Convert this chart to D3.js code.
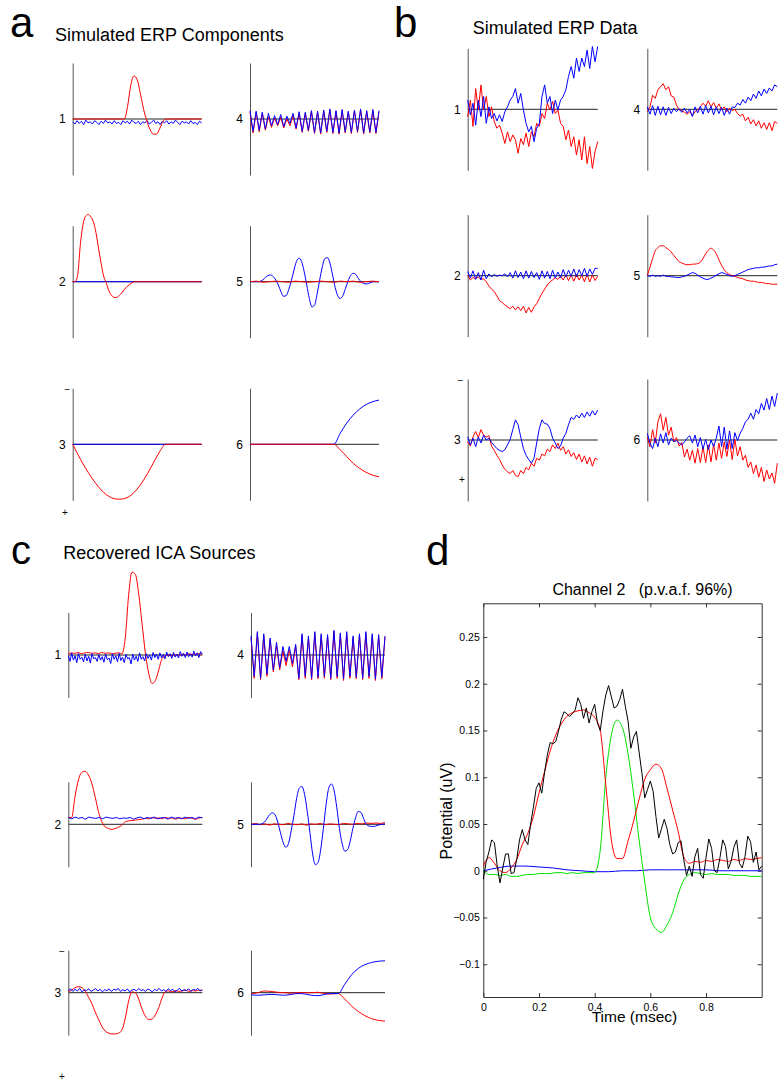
<!DOCTYPE html>
<html>
<head>
<meta charset="utf-8">
<script src="https://cdn.jsdelivr.net/npm/d3@7"></script>
<style>
  body { margin: 0; background: #fff; }
  svg { display: block; font-family: "Liberation Sans", Arial, Helvetica, sans-serif; }
</style>
</head>
<body>
<svg id="fig" width="778" height="1082"></svg>
<script>
// ---------- a: simulated ERP components (units: half the axis height = 1) ----------
const aRed1 = [0,0,0,0,0,0,0,0,0,0,0,0,0,0,0,0,0,0.22,0.6,0.77,0.7,0.45,0.17,-0.04,-0.19,-0.27,-0.27,-0.17,-0.04,0,0,0,0,0,0,0,0,0,0,0,0];
const aBlue1 = [-0.05,-0.09,-0.03,-0.08,-0.04,-0.1,-0.02,-0.07,-0.05,-0.09,-0.03,-0.06,-0.1,-0.04,-0.08,-0.02,-0.07,-0.05,-0.09,-0.03,-0.08,-0.06,-0.1,-0.03,-0.07,-0.04,-0.09,-0.02,-0.06,-0.08,-0.04,-0.1,-0.05,-0.07,-0.03,-0.09,-0.06,-0.02,-0.08,-0.05,-0.1,-0.04,-0.07,-0.03,-0.09,-0.05,-0.08,-0.02,-0.06,-0.1,-0.04,-0.07,-0.05,-0.09,-0.03,-0.08,-0.06,-0.1,-0.04,-0.07];
const aRed2 = [0,0,0.15,0.68,1.02,1.17,1.2,1.16,1.07,0.88,0.6,0.33,0.1,-0.02,-0.16,-0.24,-0.28,-0.28,-0.25,-0.2,-0.14,-0.09,-0.05,-0.02,0,0,0,0,0,0,0,0,0,0,0,0,0,0,0,0,0,0,0,0,0,0,0,0,0,0,0];
const aBlue2 = [0,0];
const aRed3 = [0,-0.18,-0.35,-0.5,-0.64,-0.76,-0.86,-0.93,-0.97,-0.98,-0.97,-0.93,-0.85,-0.74,-0.6,-0.44,-0.27,-0.11,0,0,0,0,0,0,0,0];
const aBlue3 = [0,0];
const aRed4 = [0.12,-0.25,0.12,-0.23,0.1,-0.2,0.04,-0.15,0.02,-0.12,0.03,-0.16,0,-0.12,0.06,-0.18,0.1,-0.24,0.1,-0.22,0.13,-0.26,0.12,-0.27,0.14,-0.24,0.16,-0.26,0.13,-0.27,0.15,-0.25,0.12,-0.26,0.14,-0.24,0.16,-0.27,0.13,-0.25,0.15,-0.26,0.13];
const aBlue4 = [0.15,-0.22,0.14,-0.2,0.12,-0.18,0.1,-0.12,0.06,-0.1,0.08,-0.14,0.05,-0.08,0.1,-0.16,0.13,-0.22,0.12,-0.2,0.15,-0.24,0.14,-0.25,0.16,-0.22,0.18,-0.24,0.15,-0.25,0.17,-0.23,0.14,-0.24,0.16,-0.22,0.18,-0.25,0.15,-0.23,0.17,-0.24,0.15];
const aRed5 = [0,0.01,-0.01,0,0.01,0,-0.01,0.01,0,-0.01,0,0.01,0,-0.01,0.01,0,0.01,-0.01,0,0.01,0];
const aBlue5 = [0,0,0,0,0.01,0.03,0.08,0.11,0.12,0.09,0.03,-0.06,-0.18,-0.26,-0.25,-0.14,0.01,0.2,0.36,0.42,0.36,0.18,-0.06,-0.3,-0.45,-0.42,-0.22,0.03,0.26,0.41,0.43,0.33,0.12,-0.1,-0.25,-0.3,-0.25,-0.12,0.01,0.11,0.15,0.13,0.06,0,-0.03,-0.04,-0.03,-0.01,0,0,0];
const aRed6 = [0,0,0,0,0,0,0,0,0,0,0,0,0,0,-0.1,-0.22,-0.34,-0.43,-0.5,-0.55,-0.58];
const aBlue6 = [0,0,0,0,0,0,0,0,0,0,0,0,0,0,0.2,0.38,0.52,0.63,0.71,0.76,0.79];

// ---------- b: simulated ERP data ----------
const bRed1 = [-0.12,0.15,-0.28,0.34,-0.01,0.4,-0.01,0.21,-0.12,0.04,-0.2,-0.31,-0.26,-0.39,-0.56,-0.37,-0.53,-0.42,-0.5,-0.72,-0.48,-0.58,-0.39,-0.61,-0.37,-0.45,-0.23,-0.28,-0.07,-0.15,0.1,-0.01,0.13,-0.07,-0.01,-0.23,-0.28,-0.5,-0.34,-0.61,-0.45,-0.75,-0.5,-0.83,-0.45,-0.89,-0.61,-0.97,-0.69,-0.53];
const bBlue1 = [0.15,-0.09,0.1,-0.26,0.15,-0.12,0.21,-0.23,0.04,-0.15,-0.07,-0.19,-0.09,-0.2,-0.04,0.04,0.15,0.21,0.34,0.1,0.26,-0.01,-0.23,-0.37,-0.28,-0.53,-0.31,-0.23,0.21,0.4,0.1,0.21,-0.07,0.15,-0.01,0.15,0.21,0.32,0.54,0.7,0.51,0.84,0.62,0.84,0.7,0.97,0.67,1.03,0.78,1.03];
const bRed2 = [0,-0.07,-0.03,-0.05,-0.02,-0.06,-0.05,-0.1,-0.17,-0.22,-0.26,-0.33,-0.41,-0.44,-0.48,-0.51,-0.54,-0.5,-0.56,-0.51,-0.57,-0.5,-0.61,-0.52,-0.6,-0.51,-0.46,-0.37,-0.29,-0.22,-0.15,-0.1,-0.07,-0.03,-0.06,-0.01,-0.07,0.01,-0.08,0.01,-0.09,0.02,-0.07,0.01,-0.1,0.02,-0.1,0.01,-0.08,-0.01];
const bBlue2 = [0.07,-0.04,0.08,-0.06,0.05,-0.07,0.09,-0.05,0.03,-0.02,0.02,-0.01,0.01,0,0.03,-0.02,0.05,-0.04,0.08,-0.03,0.06,-0.05,0.08,-0.04,0.07,-0.03,0.05,-0.06,0.08,-0.04,0.07,-0.05,0.09,-0.04,0.06,-0.03,0.1,-0.02,0.09,-0.01,0.11,-0.02,0.1,0,0.12,-0.01,0.11,0.02,0.12,0.12];
const bRed3 = [-0.03,-0.1,0.05,0.14,0.04,0.17,0.08,0.05,0.07,-0.1,-0.17,-0.25,-0.32,-0.41,-0.48,-0.52,-0.55,-0.5,-0.58,-0.6,-0.5,-0.55,-0.45,-0.49,-0.38,-0.43,-0.3,-0.33,-0.23,-0.26,-0.15,-0.19,-0.08,-0.14,-0.05,-0.17,-0.11,-0.23,-0.16,-0.27,-0.21,-0.32,-0.23,-0.36,-0.26,-0.39,-0.28,-0.43,-0.3,-0.32];
const bBlue3 = [0.05,-0.08,0.03,-0.11,0.05,-0.05,0.08,0,0.03,-0.04,-0.09,-0.14,-0.17,-0.19,-0.16,-0.08,0.01,0.17,0.33,0.25,0.05,-0.14,-0.25,-0.32,-0.38,-0.3,-0.05,0.19,0.33,0.27,0.26,0.19,0.03,-0.05,-0.14,-0.1,0.03,0.11,0.25,0.37,0.34,0.41,0.36,0.44,0.37,0.46,0.39,0.48,0.41,0.49];
const bRed4 = [-0.04,0.04,0.23,0.18,0.32,0.37,0.42,0.32,0.37,0.22,0.2,0.07,-0.01,-0.02,-0.05,-0.08,-0.04,-0.1,-0.04,-0.01,0.04,0.1,0.05,0.14,0.04,0.11,0.02,0.09,-0.01,0.04,-0.04,0.02,-0.02,0,-0.07,-0.11,-0.08,-0.19,-0.13,-0.24,-0.17,-0.27,-0.19,-0.31,-0.22,-0.33,-0.22,-0.35,-0.2,-0.23];
const bBlue4 = [0.04,-0.08,0.06,-0.1,0.05,-0.09,0.04,-0.1,0.03,-0.07,0.02,-0.04,0.01,-0.05,0.02,-0.06,0,-0.12,0.04,-0.06,0.05,-0.08,0.06,-0.06,0.05,-0.09,0.04,-0.07,0.03,-0.1,0.02,-0.08,0.04,0.03,0.1,0.07,0.16,0.1,0.2,0.14,0.25,0.18,0.3,0.22,0.33,0.26,0.35,0.3,0.4,0.37];
const bRed5 = [0,0.14,0.28,0.41,0.46,0.49,0.49,0.46,0.43,0.39,0.33,0.28,0.23,0.21,0.19,0.18,0.18,0.19,0.19,0.2,0.22,0.28,0.36,0.42,0.45,0.42,0.36,0.26,0.17,0.1,0.05,0.02,0,-0.01,-0.03,-0.04,-0.05,-0.07,-0.08,-0.09,-0.09,-0.1,-0.11,-0.11,-0.12,-0.13,-0.13,-0.14,-0.14,-0.14];
const bBlue5 = [0,-0.01,0.01,-0.01,0,-0.01,0.01,-0.01,-0.01,-0.02,-0.02,-0.03,-0.03,-0.02,-0.01,0.01,0.03,0.05,0.04,0.01,-0.02,-0.04,-0.06,-0.06,-0.04,-0.02,0.01,0.03,0.05,0.04,0.02,0,-0.01,0,0.02,0.04,0.06,0.08,0.1,0.11,0.12,0.13,0.13,0.14,0.14,0.15,0.16,0.16,0.18,0.19];
const bRed6 = [0.05,-0.11,0.17,-0.05,0.3,0.43,0.16,0.37,0.08,0.21,-0.03,0.04,-0.1,-0.04,-0.28,-0.15,-0.33,-0.17,-0.38,-0.14,-0.37,-0.11,-0.37,-0.08,-0.36,-0.07,-0.33,-0.05,-0.3,-0.03,-0.27,0,-0.32,0.01,-0.26,-0.11,-0.33,-0.25,-0.45,-0.36,-0.55,-0.41,-0.61,-0.45,-0.68,-0.49,-0.64,-0.54,-0.71,-0.38];
const bBlue6 = [0.11,-0.05,-0.14,0.03,-0.11,0.1,-0.05,0.12,-0.08,0.03,-0.03,-0.01,-0.05,-0.08,-0.03,0.03,0.07,-0.05,0.08,-0.11,0.04,-0.15,0.01,-0.16,0,-0.11,0.03,0.23,-0.11,0.21,-0.15,0.15,-0.14,0.12,-0.01,0.11,0.19,0.3,0.34,0.44,0.34,0.5,0.43,0.6,0.49,0.68,0.5,0.72,0.55,0.77];

// ---------- c: recovered ICA sources ----------
const cRed1 = [0.02,0.05,0.04,0.06,0.03,0.05,0.06,0.04,0.05,0.03,0.06,0.04,0.05,0.03,0.04,0.05,0.03,0.4,1.4,1.95,1.9,1.45,0.75,0.05,-0.43,-0.67,-0.6,-0.35,-0.08,-0.02,0,-0.02,0.01,-0.01,0.02,0,0.03,0.01,0.02,0.03,0.01];
const cBlue1 = [-0.02,-0.15,0.05,-0.12,-0.02,-0.18,0.04,-0.1,-0.05,-0.16,0.02,-0.14,-0.03,-0.19,0.03,-0.09,-0.06,-0.15,0.01,-0.12,-0.04,-0.17,0.02,-0.11,-0.07,-0.2,0.03,-0.1,-0.02,-0.16,0.04,-0.13,-0.05,-0.18,0.01,-0.09,-0.06,-0.21,0.02,-0.12,-0.03,-0.15,0.05,-0.1,-0.04,-0.14,0.03,-0.08,0,-0.12,0.06,-0.06,0.02,-0.1,0.05,-0.07,0.01,-0.09,0.07,-0.04,0.03,-0.08,0.06,-0.05,0.02,-0.07,0.08,-0.03,0.04,-0.06,0.07,-0.04,0.03,-0.05,0.09,-0.02,0.05,-0.06,0.08,0.02];
const cRed2 = [0.16,0.16,0.65,1.04,1.22,1.25,1.16,0.97,0.65,0.3,0.06,-0.06,-0.1,-0.12,-0.1,-0.07,-0.02,0.06,0.08,0.09,0.1,0.11,0.12,0.14,0.13,0.16,0.14,0.15,0.13,0.16,0.14,0.15,0.12,0.15,0.14,0.13,0.16,0.14,0.12,0.15,0.16];
const cBlue2 = [0.16,0.13,0.17,0.14,0.16,0.12,0.17,0.15,0.14,0.16,0.13,0.17,0.15,0.14,0.16,0.13,0.15,0.14,0.16,0.12,0.15,0.17,0.13,0.16,0.14,0.17,0.13,0.15,0.16,0.12,0.17,0.14,0.16,0.13,0.17,0.14,0.16,0.13,0.17,0.15];
const cRed3 = [0.02,0.06,0.12,0.14,0.12,0.04,-0.1,-0.25,-0.45,-0.62,-0.79,-0.9,-0.95,-0.97,-0.97,-0.95,-0.88,-0.6,-0.2,0.02,0,-0.15,-0.38,-0.55,-0.63,-0.62,-0.52,-0.35,-0.12,0.03,0.04,0.02,0.05,0.03,0.04,0.06,0.03,0.05,0.04,0.06,0.05];
const cBlue3 = [0.05,0.09,0.03,0.08,0.04,0.1,0.02,0.07,0.05,0.09,0.03,0.06,0.1,0.04,0.08,0.02,0.07,0.05,0.09,0.03,0.08,0.06,0.1,0.03,0.07,0.04,0.09,0.02,0.06,0.08,0.04,0.1,0.05,0.07,0.03,0.09,0.06,0.02,0.08,0.05,0.1,0.04,0.07,0.03,0.09,0.05,0.08,0.02,0.06,0.1,0.04,0.07,0.05,0.09,0.03,0.08,0.06,0.1,0.04,0.07];
const cRed4 = [0.4,-0.55,0.52,-0.58,0.45,-0.5,0.35,-0.4,0.22,-0.35,0.1,-0.25,0.12,-0.28,0.2,-0.58,0.45,-0.55,0.4,-0.58,0.5,-0.56,0.45,-0.55,0.44,-0.58,0.55,-0.55,0.48,-0.6,0.5,-0.55,0.4,-0.56,0.46,-0.58,0.5,-0.55,0.45,-0.6,0.44,-0.56,0.42];
const cBlue4 = [0.45,-0.5,0.55,-0.55,0.5,-0.45,0.4,-0.35,0.3,-0.3,0.2,-0.15,0.2,-0.2,0.25,-0.55,0.5,-0.5,0.45,-0.55,0.55,-0.52,0.5,-0.5,0.48,-0.55,0.58,-0.5,0.52,-0.56,0.55,-0.5,0.45,-0.52,0.5,-0.55,0.55,-0.5,0.5,-0.56,0.48,-0.52,0.45];
const cRed5 = [0,0.02,-0.01,0.01,-0.02,0.01,0,-0.01,0.02,0,-0.01,0.01,-0.02,0.01,0,0.02,-0.01,0.01,0,-0.01,0.02,0.01,0,0.02,0.01,0.03,0.02,0.03,0.02,0.04];
const cBlue5 = [0,0,0,0,0.01,0.05,0.14,0.23,0.27,0.22,0.05,-0.2,-0.43,-0.54,-0.45,-0.15,0.2,0.6,0.85,0.89,0.7,0.3,-0.2,-0.7,-0.95,-0.9,-0.6,-0.1,0.45,0.85,0.95,0.8,0.4,-0.1,-0.45,-0.63,-0.6,-0.4,-0.1,0.15,0.3,0.28,0.14,0,-0.04,-0.05,-0.05,-0.03,-0.01,0,0.01];
const cRed6 = [-0.03,0,0.04,0.03,0.01,0,-0.01,0,0,0,0.01,-0.02,-0.03,-0.02,-0.15,-0.31,-0.44,-0.54,-0.61,-0.65,-0.67];
const cBlue6 = [-0.05,-0.06,-0.05,-0.04,-0.05,-0.06,-0.04,-0.02,-0.03,-0.06,-0.07,-0.04,-0.02,-0.02,0.2,0.42,0.57,0.66,0.71,0.74,0.75];

// ---------- d: channel 2 (uV), time 0..1 ----------
const chanBlack = [-0.009,0.009,0.02,0.033,0.03,0.005,-0.013,0.003,0.018,0.018,-0.003,-0.002,0.012,0.033,0.044,0.033,0.028,0.05,0.068,0.088,0.094,0.083,0.105,0.124,0.137,0.136,0.138,0.149,0.162,0.17,0.168,0.165,0.168,0.172,0.185,0.178,0.163,0.174,0.158,0.17,0.178,0.158,0.15,0.171,0.188,0.198,0.186,0.174,0.176,0.183,0.194,0.176,0.16,0.131,0.143,0.149,0.126,0.104,0.078,0.087,0.096,0.085,0.058,0.035,0.045,0.055,0.045,0.028,0.018,0.02,0.03,0.032,0.012,-0.005,0.005,-0.006,0.015,0.024,-0.004,-0.008,0.014,0.034,0.024,0,-0.002,0.014,0.033,0.026,0.002,0.01,0.025,0.033,0.008,0.003,0.015,0.037,0.031,0.009,0.02,0.001,0.005];
const chanRed = [0.005,0.014,0.008,0,-0.002,0.003,0.012,0.028,0.04,0.058,0.083,0.106,0.128,0.145,0.157,0.165,0.169,0.171,0.172,0.169,0.164,0.15,0.092,0.033,0.013,0.013,0.032,0.053,0.077,0.098,0.108,0.114,0.109,0.088,0.065,0.042,0.015,0.008,0.01,0.009,0.011,0.01,0.012,0.011,0.01,0.012,0.011,0.013,0.012,0.013,0.014];
const chanGreen = [0,-0.004,-0.004,-0.005,-0.004,-0.006,-0.006,-0.005,-0.004,-0.004,-0.003,-0.003,-0.003,-0.002,-0.002,-0.003,-0.002,-0.003,-0.002,-0.002,-0.002,0.022,0.1,0.145,0.161,0.153,0.125,0.082,0.032,-0.012,-0.05,-0.062,-0.066,-0.058,-0.045,-0.025,-0.01,-0.004,-0.002,-0.003,-0.004,-0.003,-0.004,-0.004,-0.004,-0.005,-0.005,-0.005,-0.006,-0.006,-0.006];
const chanBlue = [0,0.003,0.005,0.005,0.004,0.003,0.001,0,-0.001,-0.001,0,0,0.001,0.001,0.001,0.001,0.001,0,0,0,0];
const chanYTicks = [-0.1, -0.05, 0, 0.05, 0.1, 0.15, 0.2, 0.25];
const chanXTicks = [0, 0.2, 0.4, 0.6, 0.8];

const svg = d3.select("#fig");

// one small sub-axes with a vertical axis, zero line and two traces
function smallPlot(cfg) {
  const x = d3.scaleLinear().domain([0, 1]).range([cfg.x0, cfg.x0 + cfg.w]);
  const y = d3.scaleLinear().domain([-1, 1]).range([cfg.zero + cfg.h, cfg.zero - cfg.h]);
  const g = svg.append("g");

  g.append("line")
    .attr("x1", x(0)).attr("x2", x(1))
    .attr("y1", y(0)).attr("y2", y(0))
    .attr("stroke", "#222");

  g.append("g")
    .attr("transform", "translate(" + x(0) + ",0)")
    .call(d3.axisLeft(y).tickValues([]).tickSizeOuter(0))
    .call(a => a.select(".domain").attr("stroke", "#555"));

  cfg.series.forEach(s => {
    const n = s.values.length;
    const line = d3.line()
      .x((d, i) => x(i / (n - 1)))
      .y(d => y(d))
      .curve(s.smooth ? d3.curveMonotoneX : d3.curveLinear);
    g.append("path")
      .datum(s.values)
      .attr("fill", "none")
      .attr("stroke", s.color)
      .attr("stroke-width", 1)
      .attr("d", line);
  });

  g.append("text")
    .attr("x", x(0) - 7)
    .attr("y", y(0))
    .attr("dy", "0.35em")
    .attr("text-anchor", "end")
    .attr("font-size", 12)
    .text(cfg.label);
}

function grid(p) {
  p.items.forEach((it, i) => {
    const col = Math.floor(i / 3), row = i % 3;
    const flags = it[2] || "";
    const red = { values: it[0], color: "#ff0000", smooth: flags.includes("r") };
    const blue = { values: it[1], color: "#0000ff", smooth: flags.includes("b") };
    const redTop = flags.includes("T") ? true : flags.includes("U") ? false : p.redOnTop;
    smallPlot({
      x0: p.cols[col], w: p.w, zero: p.zeros[row], h: p.h,
      label: String(i + 1),
      series: redTop ? [blue, red] : [red, blue]
    });
  });
}

grid({
  cols: [72.7, 250], w: 129, zeros: [119, 281.7, 444.3], h: 56, redOnTop: true,
  items: [[aRed1, aBlue1, "r"], [aRed2, aBlue2, "r"], [aRed3, aBlue3, "r"],
          [aRed4, aBlue4, "U"], [aRed5, aBlue5, "b"], [aRed6, aBlue6, "rb"]]
});
grid({
  cols: [467.7, 647.3], w: 130, zeros: [109.3, 275.7, 440], h: 61, redOnTop: false,
  items: [[bRed1, bBlue1, ""], [bRed2, bBlue2, ""], [bRed3, bBlue3, ""],
          [bRed4, bBlue4, ""], [bRed5, bBlue5, "r"], [bRed6, bBlue6, ""]]
});
grid({
  cols: [68.3, 251], w: 134, zeros: [655, 824.3, 992.7], h: 42.5, redOnTop: false,
  items: [[cRed1, cBlue1, "r"], [cRed2, cBlue2, "r"], [cRed3, cBlue3, "r"],
          [cRed4, cBlue4, ""], [cRed5, cBlue5, "b"], [cRed6, cBlue6, "rb"]]
});

// polarity marks next to the lower-left plots
[[67.5, 389, "−", 4], [65, 512, "+", 4], [460.5, 380, "−", 4], [462, 479, "+", 4], [62, 951, "−", 4], [62, 1077, "+", 3]]
  .forEach(([px, py, s, off]) => {
    svg.append("text").attr("x", px).attr("y", py + off)
      .attr("text-anchor", "middle").attr("font-size", s === "−" ? 10 : 10).text(s);
  });

// panel letters and titles
[["a", 10, 36.7, 42], ["b", 394, 36.7, 42], ["c", 11, 563.5, 40], ["d", 426, 565, 42]]
  .forEach(([t, px, py, fs]) => {
    svg.append("text").attr("x", px).attr("y", py).attr("font-size", fs).text(t);
  });
[["Simulated ERP Components", 55, 41], ["Simulated ERP Data", 472.7, 34.3], ["Recovered ICA Sources", 63.3, 559.3]]
  .forEach(([t, px, py]) => {
    svg.append("text").attr("x", px).attr("y", py).attr("font-size", 18).text(t);
  });

// ---------- d: single axes ----------
const dx = d3.scaleLinear().domain([0, 1]).range([483.3, 761.7]);
const dy = d3.scaleLinear().domain([-0.135, 0.286]).range([997, 603.3]);
const fmt = d3.format("~g");

function styleAxis(a) {
  a.select(".domain").attr("stroke", "#333");
  a.selectAll(".tick line").attr("stroke", "#333");
  a.selectAll(".tick text").attr("fill", "#000").attr("font-size", 10.5)
    .attr("font-family", "'Liberation Sans', Arial, sans-serif");
}

svg.append("g").attr("transform", "translate(" + dx(0) + ",0)")
  .call(d3.axisLeft(dy).tickValues(chanYTicks).tickFormat(fmt).tickSize(-4).tickSizeOuter(0).tickPadding(3.5))
  .call(styleAxis);
svg.append("g").attr("transform", "translate(" + dx(1) + ",0)")
  .call(d3.axisRight(dy).tickValues(chanYTicks).tickFormat("").tickSize(-4).tickSizeOuter(0))
  .call(styleAxis);
svg.append("g").attr("transform", "translate(0," + dy(-0.135) + ")")
  .call(d3.axisBottom(dx).tickValues(chanXTicks).tickFormat(fmt).tickSize(-4).tickSizeOuter(0).tickPadding(6.2))
  .call(styleAxis);
svg.append("g").attr("transform", "translate(0," + dy(0.286) + ")")
  .call(d3.axisTop(dx).tickValues(chanXTicks).tickFormat("").tickSize(-4).tickSizeOuter(0))
  .call(styleAxis);

[[chanBlue, "#0000ff"], [chanGreen, "#00e000"], [chanRed, "#ff0000"], [chanBlack, "#000000"]]
  .forEach(([vals, col]) => {
    const n = vals.length;
    const line = d3.line()
      .x((d, i) => dx(i / (n - 1)))
      .y(d => dy(d))
      .curve(vals === chanBlack ? d3.curveLinear : d3.curveMonotoneX);
    svg.append("path").datum(vals)
      .attr("fill", "none").attr("stroke", col).attr("stroke-width", 1).attr("d", line);
  });

svg.append("text").attr("x", 642.5).attr("y", 595).attr("text-anchor", "middle")
  .attr("font-size", 16).attr("xml:space", "preserve").style("white-space", "pre")
  .text("Channel 2   (p.v.a.f. 96%)");
svg.append("text").attr("x", 591.7).attr("y", 1021.7).attr("font-size", 15.5).text("Time (msec)");
svg.append("text").attr("transform", "translate(451.5,811) rotate(-90)")
  .attr("text-anchor", "middle").attr("font-size", 16).text("Potential (uV)");
</script>
</body>
</html>
